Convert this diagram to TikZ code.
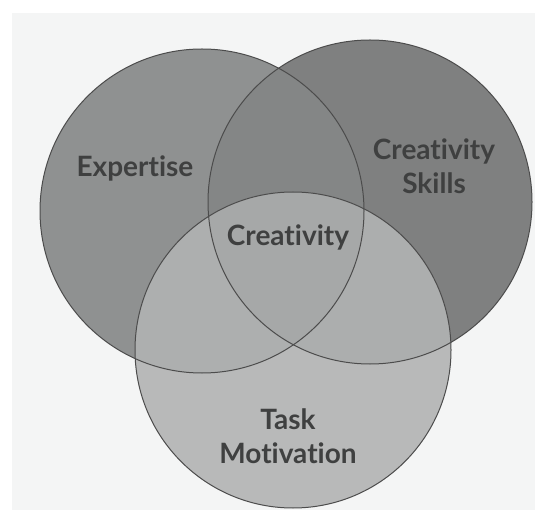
\documentclass[tikz,border=0pt]{standalone}
\usepackage{fontspec}
\setmainfont{Lato}[Ligatures=NoCommon]
\newlength{\du}
\setlength{\du}{1pt}
\begin{document}
\begin{tikzpicture}
\pgftransformxscale{1.000000}
\pgftransformyscale{-1.000000}
\definecolor{papercolor}{rgb}{0.957000, 0.961000, 0.961000}
\definecolor{expcolor}{rgb}{0.561000, 0.569000, 0.569000}
\definecolor{skillcolor}{rgb}{0.498000, 0.502000, 0.502000}
\definecolor{bothcolor}{rgb}{0.518000, 0.525000, 0.525000}
\definecolor{taskcolor}{rgb}{0.722000, 0.725000, 0.725000}
\definecolor{taskexpcolor}{rgb}{0.678000, 0.686000, 0.686000}
\definecolor{taskskillcolor}{rgb}{0.675000, 0.682000, 0.682000}
\definecolor{centercolor}{rgb}{0.651000, 0.659000, 0.659000}
\definecolor{dialinecolor}{rgb}{0.300000, 0.300000, 0.300000}
\definecolor{labelcolor}{rgb}{0.247000, 0.251000, 0.251000}
\tikzset{venntext/.style={text=labelcolor, font=\bfseries\fontsize{28}{34}\selectfont, align=center}}
\useasboundingbox (0\du,0\du) rectangle (535\du,510\du);
\fill[white] (0\du,0\du) rectangle (535\du,510\du);
\fill[papercolor] (12\du,13\du) rectangle (535\du,510\du);
% upper circles
\fill[expcolor] (202\du,211\du) circle (162\du);
\fill[skillcolor] (370\du,202\du) circle (162\du);
\begin{scope}
\clip (202\du,211\du) circle (162\du);
\fill[bothcolor] (370\du,202\du) circle (162\du);
\end{scope}
% lower circle
\fill[taskcolor] (293\du,350\du) circle (158\du);
\begin{scope}
\clip (293\du,350\du) circle (158\du);
\fill[taskexpcolor] (202\du,211\du) circle (162\du);
\fill[taskskillcolor] (370\du,202\du) circle (162\du);
\clip (202\du,211\du) circle (162\du);
\fill[centercolor] (370\du,202\du) circle (162\du);
\end{scope}
% outlines
\pgfsetlinewidth{1.000000\du}
\pgfsetstrokecolor{dialinecolor}
\draw (202\du,211\du) circle (162\du);
\draw (370\du,202\du) circle (162\du);
\draw (293\du,350\du) circle (158\du);
% labels
\node[venntext] (expertise) at (135\du,168\du) {Expertise};
\node[venntext] (skills) at (434\du,166\du) {Creativity\\Skills};
\node[venntext] (creativity) at (288\du,237\du) {Creativity};
\node[venntext] (task) at (288\du,436\du) {Task\\Motivation};
\end{tikzpicture}
\end{document}
